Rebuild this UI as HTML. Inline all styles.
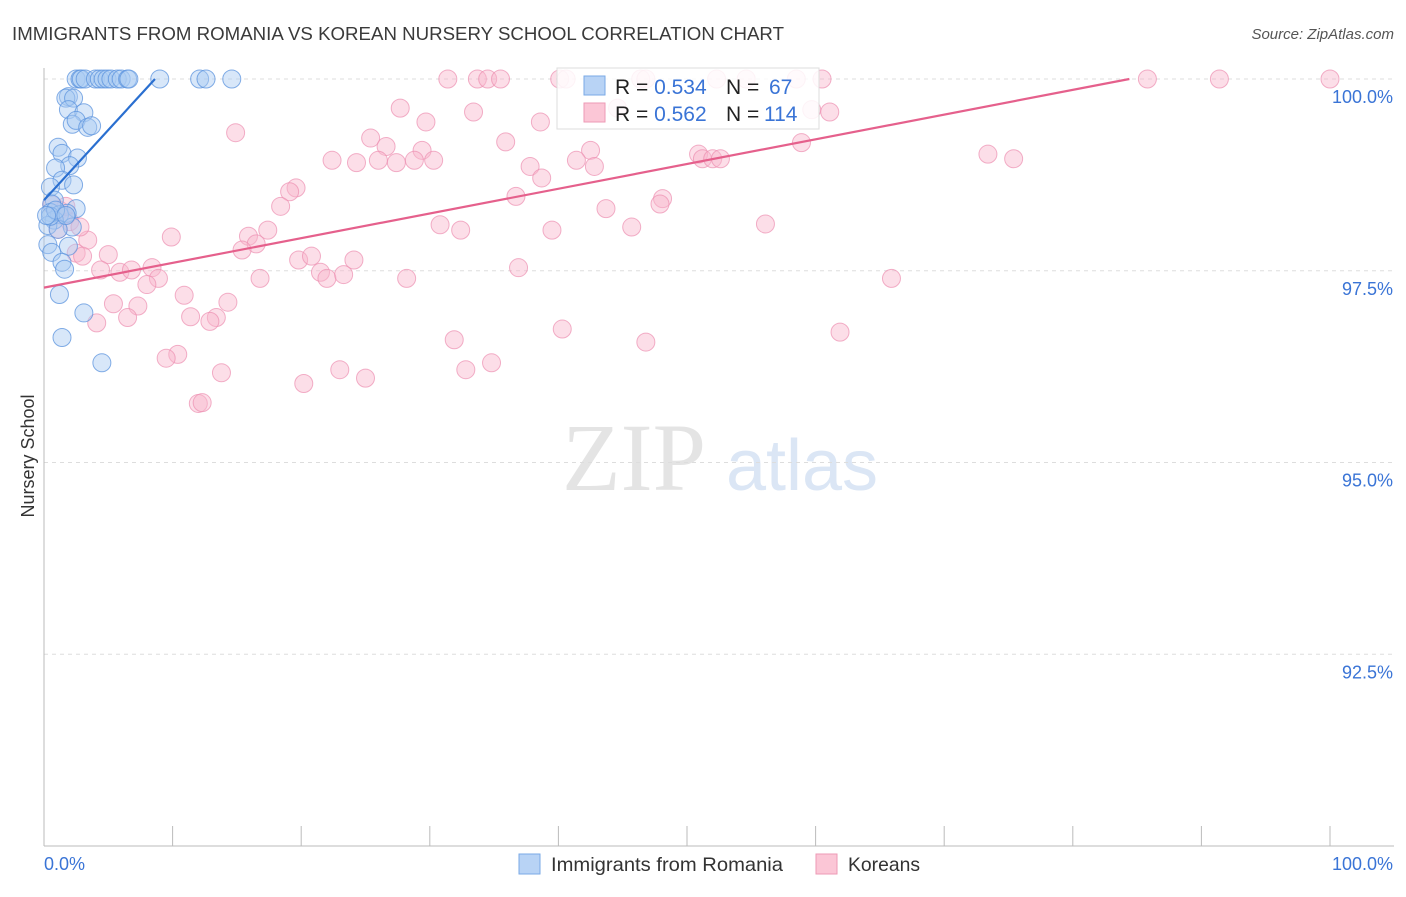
<!DOCTYPE html>
<html><head><meta charset="utf-8"><style>
body{margin:0;background:#fff;font-family:"Liberation Sans",sans-serif}
svg text{font-family:"Liberation Sans",sans-serif}
</style></head><body>
<svg id="c" width="1406" height="892" xmlns="http://www.w3.org/2000/svg">
<text x="12" y="40" font-size="18.5" fill="#3a3a3a" textLength="772" lengthAdjust="spacingAndGlyphs">IMMIGRANTS FROM ROMANIA VS KOREAN NURSERY SCHOOL CORRELATION CHART</text>
<text x="1394" y="39" font-size="15" fill="#555" text-anchor="end" font-style="italic">Source: ZipAtlas.com</text>
<text x="634" y="490" font-size="96" fill="#e4e4e4" text-anchor="middle" style="font-family:'Liberation Serif',serif">ZIP</text>
<text x="802" y="490" font-size="72" fill="#dbe6f5" text-anchor="middle">atlas</text>
<text x="34" y="456" font-size="18" fill="#333" text-anchor="middle" transform="rotate(-90 34 456)">Nursery School</text>
<g id="grid"></g><g id="pts"></g><g id="lines"></g>
<g>
<rect x="557" y="68" width="262" height="61" fill="#fff" fill-opacity="0.85" stroke="#ddd"/>
<rect x="584" y="76" width="21" height="19" fill="#b8d3f5" stroke="#7aa9e6"/>
<rect x="584" y="103" width="21" height="19" fill="#fbc6d6" stroke="#ee9ab5"/>
<text x="615" y="94" font-size="21" fill="#222">R = <tspan fill="#3a74d6">0.534</tspan><tspan x="726">N = </tspan><tspan x="769" fill="#3a74d6">67</tspan></text>
<text x="615" y="121" font-size="21" fill="#222">R = <tspan fill="#3a74d6">0.562</tspan><tspan x="726">N = </tspan><tspan x="764" fill="#3a74d6">114</tspan></text>
</g>
<g>
<rect x="519" y="854" width="21" height="20" fill="#b8d3f5" stroke="#7aa9e6"/>
<text x="551" y="871" font-size="19.5" fill="#333" textLength="232" lengthAdjust="spacingAndGlyphs">Immigrants from Romania</text>
<rect x="816" y="854" width="21" height="20" fill="#fbc6d6" stroke="#ee9ab5"/>
<text x="848" y="871" font-size="19.5" fill="#333" textLength="72" lengthAdjust="spacingAndGlyphs">Koreans</text>
</g>
</svg>
<script>
const yTicks=[100,97.5,95,92.5];
const yTickLabels=["100.0%","97.5%","95.0%","92.5%"];
const xEndLabels=["0.0%","100.0%"];
const blueX=[2.5,2.8,2.9,3.2,4,4.3,4.6,4.9,5.2,5.7,6,6.5,6.6,9,12.1,12.6,14.6,1.9,1.7,2.3,1.9,3.1,2.2,2.5,3.4,3.7,1.1,1.4,2.6,2,0.9,1.4,2.3,0.5,0.8,2.5,0.6,0.5,1.2,1.8,0.8,0.3,2.2,1.1,0.3,1.9,0.6,1.4,1.6,1.2,3.1,1.4,4.5,0.5,0.9,1.7,0.2];
const blueY=[100,100,100,100,100,100,100,100,100,100,100,100,100,100,100,100,100,99.77,99.75,99.75,99.6,99.56,99.41,99.46,99.37,99.39,99.11,99.03,98.97,98.87,98.84,98.68,98.62,98.59,98.42,98.31,98.37,98.26,98.23,98.25,98.16,98.09,98.07,98.04,97.84,97.82,97.74,97.61,97.52,97.19,96.95,96.63,96.3,98.21,98.29,98.22,98.22];
const pinkX=[40.1,40.6,31.4,33.7,34.5,35.5,46.4,46.8,52.3,54.6,58.5,60.5,85.8,91.4,100,27.7,33.4,44.6,59.7,61.1,29.7,38.6,14.9,25.4,26.6,35.9,42.5,29.4,22.4,24.3,26,27.4,28.8,30.3,41.4,42.8,37.8,50.9,51.2,52,52.6,58.9,73.4,75.4,38.7,19.6,19.1,18.4,36.7,48.1,43.7,47.9,30.8,32.4,39.5,45.7,56.1,17.4,15.9,16.5,15.4,9.9,3.4,5,2.5,3,19.8,20.8,24.1,21.5,22,23.3,4.4,5.9,6.8,8.4,8.9,8,16.8,28.2,36.9,65.9,10.9,14.3,5.4,7.3,11.4,6.5,13.4,12.9,4.1,40.3,46.8,61.9,31.9,10.4,9.5,13.8,20.2,23,25,32.8,34.8,12,12.3,1.2,1.5,2,0.6,1.1,2.8,1.7];
const pinkY=[100,100,100,100,100,100,100,100,100,100,100,100,100,100,100,99.62,99.57,99.62,99.6,99.57,99.44,99.44,99.3,99.23,99.12,99.18,99.07,99.07,98.94,98.91,98.94,98.91,98.94,98.94,98.94,98.86,98.86,99.02,98.96,98.96,98.96,99.17,99.02,98.96,98.71,98.58,98.53,98.34,98.47,98.44,98.31,98.37,98.1,98.03,98.03,98.07,98.11,98.03,97.95,97.85,97.77,97.94,97.9,97.71,97.73,97.69,97.64,97.69,97.64,97.48,97.4,97.45,97.51,97.48,97.51,97.54,97.4,97.32,97.4,97.4,97.54,97.4,97.18,97.09,97.07,97.04,96.9,96.89,96.89,96.84,96.82,96.74,96.57,96.7,96.6,96.41,96.36,96.17,96.03,96.21,96.1,96.21,96.3,95.77,95.78,98.29,98.22,98.14,98.36,98.04,98.07,98.34];
const blueTrend=[0,98.42,8.63,100];
const pinkTrend=[0,97.28,84.4,100];
const L=44,R=1330,T=79,B=846;
const xs=v=>L+(v/100)*(R-L);
const ys=v=>T+(100-v)/10*(B-T);
const NS="http://www.w3.org/2000/svg";
function mk(tag,a,parent){const e=document.createElementNS(NS,tag);for(const k in a)e.setAttribute(k,a[k]);parent.appendChild(e);return e;}
const grid=document.getElementById('grid');
yTicks.forEach((t,i)=>{
 const g=mk('line',{x1:L,x2:1394,y1:ys(t),y2:ys(t),stroke:'#ddd','stroke-dasharray':'4,4'},grid);
 
 
 const tx=mk('text',{x:1393,y:ys(t)+24,'font-size':18,fill:'#3a74d6','text-anchor':'end'},grid);
 tx.textContent=yTickLabels[i];
 
 
});
const ax=mk('line',{x1:L,x2:L,y1:68,y2:B,stroke:'#bbb'},grid);


const bx=mk('line',{x1:L,x2:1394,y1:B,y2:B,stroke:'#bbb'},grid);


for(let i=0;i<=10;i++){
 const tk=mk('line',{x1:xs(i*10),x2:xs(i*10),y1:826,y2:B,stroke:'#bbb'},grid);
 
 
}
[[0,'start',L],[1,'end',1393]].forEach(([i,anc,x])=>{
 const t=mk('text',{x:x,y:870,'font-size':18,fill:'#3a74d6','text-anchor':anc},grid);
 t.textContent=xEndLabels[i];
 
 
});
const pts=document.getElementById('pts');
pinkX.forEach((v,i)=>{
 const c=mk('circle',{cx:xs(v),cy:ys(pinkY[i]),r:9,fill:'#f8b6cb','fill-opacity':0.45,stroke:'#ec8fb0','stroke-opacity':0.7},pts);
 
 
});
blueX.forEach((v,i)=>{
 const c=mk('circle',{cx:xs(v),cy:ys(blueY[i]),r:9,fill:'#a9c9f2','fill-opacity':0.45,stroke:'#5b93dd','stroke-opacity':0.75},pts);
 
 
});
const lines=document.getElementById('lines');
const bl=mk('line',{x1:xs(blueTrend[0]),y1:ys(blueTrend[1]),x2:xs(blueTrend[2]),y2:ys(blueTrend[3]),stroke:'#2a6fd0','stroke-width':2.2},lines);


const pl=mk('line',{x1:xs(pinkTrend[0]),y1:ys(pinkTrend[1]),x2:xs(pinkTrend[2]),y2:ys(pinkTrend[3]),stroke:'#e5608c','stroke-width':2.2},lines);


</script>
</body></html>
